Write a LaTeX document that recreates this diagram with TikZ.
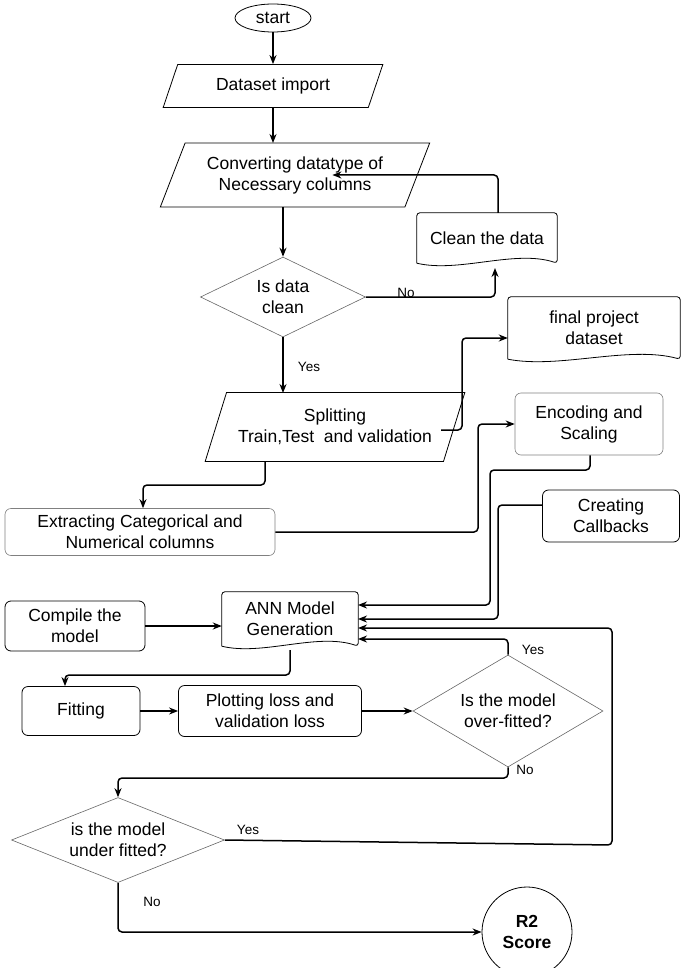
\documentclass[tikz,border=0pt]{standalone}
\usepackage{fontspec}
\setmainfont{Liberation Sans}
\usetikzlibrary{shapes.geometric,arrows.meta,calc}
\begin{document}
\begin{tikzpicture}[x=1pt,y=-1pt,
  every node/.style={font=\fontsize{17.5}{21}\selectfont,align=center},
  box/.style={draw,rounded corners=6pt,line width=0.8pt,inner sep=0pt},
  lbox/.style={draw=gray,rounded corners=6pt,line width=0.6pt,inner sep=0pt},
  para/.style={draw,trapezium,trapezium left angle=62,trapezium right angle=118,trapezium stretches=true,line width=0.8pt,inner sep=0pt},
  dia/.style={draw=gray!80!black,diamond,aspect=1,line width=0.6pt,inner sep=0pt,minimum width=0pt},
  doc/.style={inner sep=0pt},
  arr/.style={-{Stealth[length=9pt,width=7pt]},line width=1.5pt,rounded corners=4pt},
  lab/.style={font=\fontsize{13.5}{16}\selectfont}]
\useasboundingbox (0,0) rectangle (685,968);
\newcommand{\docdraw}[1]{\draw[line width=0.8pt,rounded corners=3pt] (#1.south west) -- (#1.north west) -- (#1.north east) -- (#1.south east)[sharp corners] .. controls ($(#1.south east)!0.3!(#1.south west)+(0,-14)$) and ($(#1.south east)!0.7!(#1.south west)+(0,10)$) .. (#1.south west);}
\node[draw,ellipse,line width=0.8pt,minimum width=76pt,minimum height=28pt,inner sep=0pt] (start) at (273,18) {start};
\node[para,minimum width=220pt,minimum height=43pt] (imp) at (273,86) {Dataset import};
\node[para,minimum width=270pt,minimum height=64pt] (conv) at (295,175) {Converting datatype of\\Necessary columns};
\node[doc,minimum width=140pt,minimum height=50pt] (clean) at (487,238) {Clean the data};
\node[dia,minimum width=165pt,minimum height=80pt,aspect=2.06] (isc) at (283,297) {Is data\\clean};
\node[para,minimum width=260pt,minimum height=69pt] (split) at (335,427) {Splitting\\ Train,Test~ and validation};
\node[doc,minimum width=172pt,minimum height=62pt] (final) at (594,328) {final project\\dataset};
\node[lbox,minimum width=148pt,minimum height=62pt] (enc) at (589,424) {Encoding and\\Scaling};
\node[lbox,minimum width=270pt,minimum height=47pt] (ext) at (140,532) {Extracting Categorical and\\Numerical columns};
\node[box,minimum width=137pt,minimum height=52pt] (cb) at (611,516) {Creating\\Callbacks};
\node[box,minimum width=140pt,minimum height=50pt] (comp) at (75,626) {Compile the\\model};
\node[doc,minimum width=136pt,minimum height=54pt] (ann) at (290,619) {ANN Model\\Generation};
\node[box,minimum width=118pt,minimum height=49pt] (fit) at (81,711) {Fitting};
\node[box,minimum width=183pt,minimum height=51pt] (plot) at (270,711) {Plotting loss and\\validation loss};
\node[dia,minimum width=190pt,minimum height=112pt,aspect=1.7] (over) at (508,711) {Is the model\\over-fitted?};
\node[dia,minimum width=213pt,minimum height=85pt,aspect=2.5] (under) at (118,840) {is the model\\under fitted?};
\node[draw,circle,line width=0.8pt,minimum size=90pt,inner sep=0pt,font=\fontsize{17.5}{21}\selectfont\bfseries] (r2) at (527,932) {R2\\Score};
\docdraw{clean}\docdraw{final}\docdraw{ann}
% connectors
\draw[arr] (start) -- (imp);
\draw[arr] (273,108) -- (273,143);
\draw[arr] (283,207) -- (isc.north);
\draw[arr] (isc.east) -- (495,297) -- (495,268);
\node[lab] (no1) at (406,293) {No};
\draw[arr] (clean.north -| 498,0) -- (498,175) -- ($(conv.north east)!0.5!(conv.south east)+(5,0)$);
\draw[arr] (isc.south) -- (283,393);
\node[lab] (yes1) at (309,367) {Yes};
\draw[arr] (441,430) -- (462,430) -- (462,338) -- (final.west |- 0,338);
\draw[arr] (265,462) -- (265,485) -- (143,485) -- (ext.north -| 143,0);
\draw[arr] (ext.east) -- (478,532) -- (478,424) -- (enc.west);
\draw[arr] (enc.south -| 590,0) -- (590,470) -- (490,470) -- (490,605) -- (358,605);
\draw[arr] (cb.west |- 0,505) -- (498,505) -- (498,619) -- (358,619);
\draw[arr] (comp.east) -- (ann.west |- comp.east);
\draw[arr] (290,650) -- (290,675) -- (65,675) -- (fit.north -| 65,0);
\draw[arr] (fit) -- (plot);
\draw[arr] (plot) -- (over);
\draw[arr] (over.north) -- (508,639) -- (358,639);
\node[lab] (yes2) at (533,650) {Yes};
\draw[arr] (over.south) -- (508,778) -- (118,778) -- (under.north);
\node[lab] (no2) at (525,770) {No};
\draw[arr] (under.east) -- (612,845) -- (612,628) -- (358,628);
\node[lab] (yes3) at (248,830) {Yes};
\draw[arr] (under.south) -- (118,932) -- (r2.west);
\node[lab] (no3) at (152,902) {No};
\end{tikzpicture}
\end{document}
